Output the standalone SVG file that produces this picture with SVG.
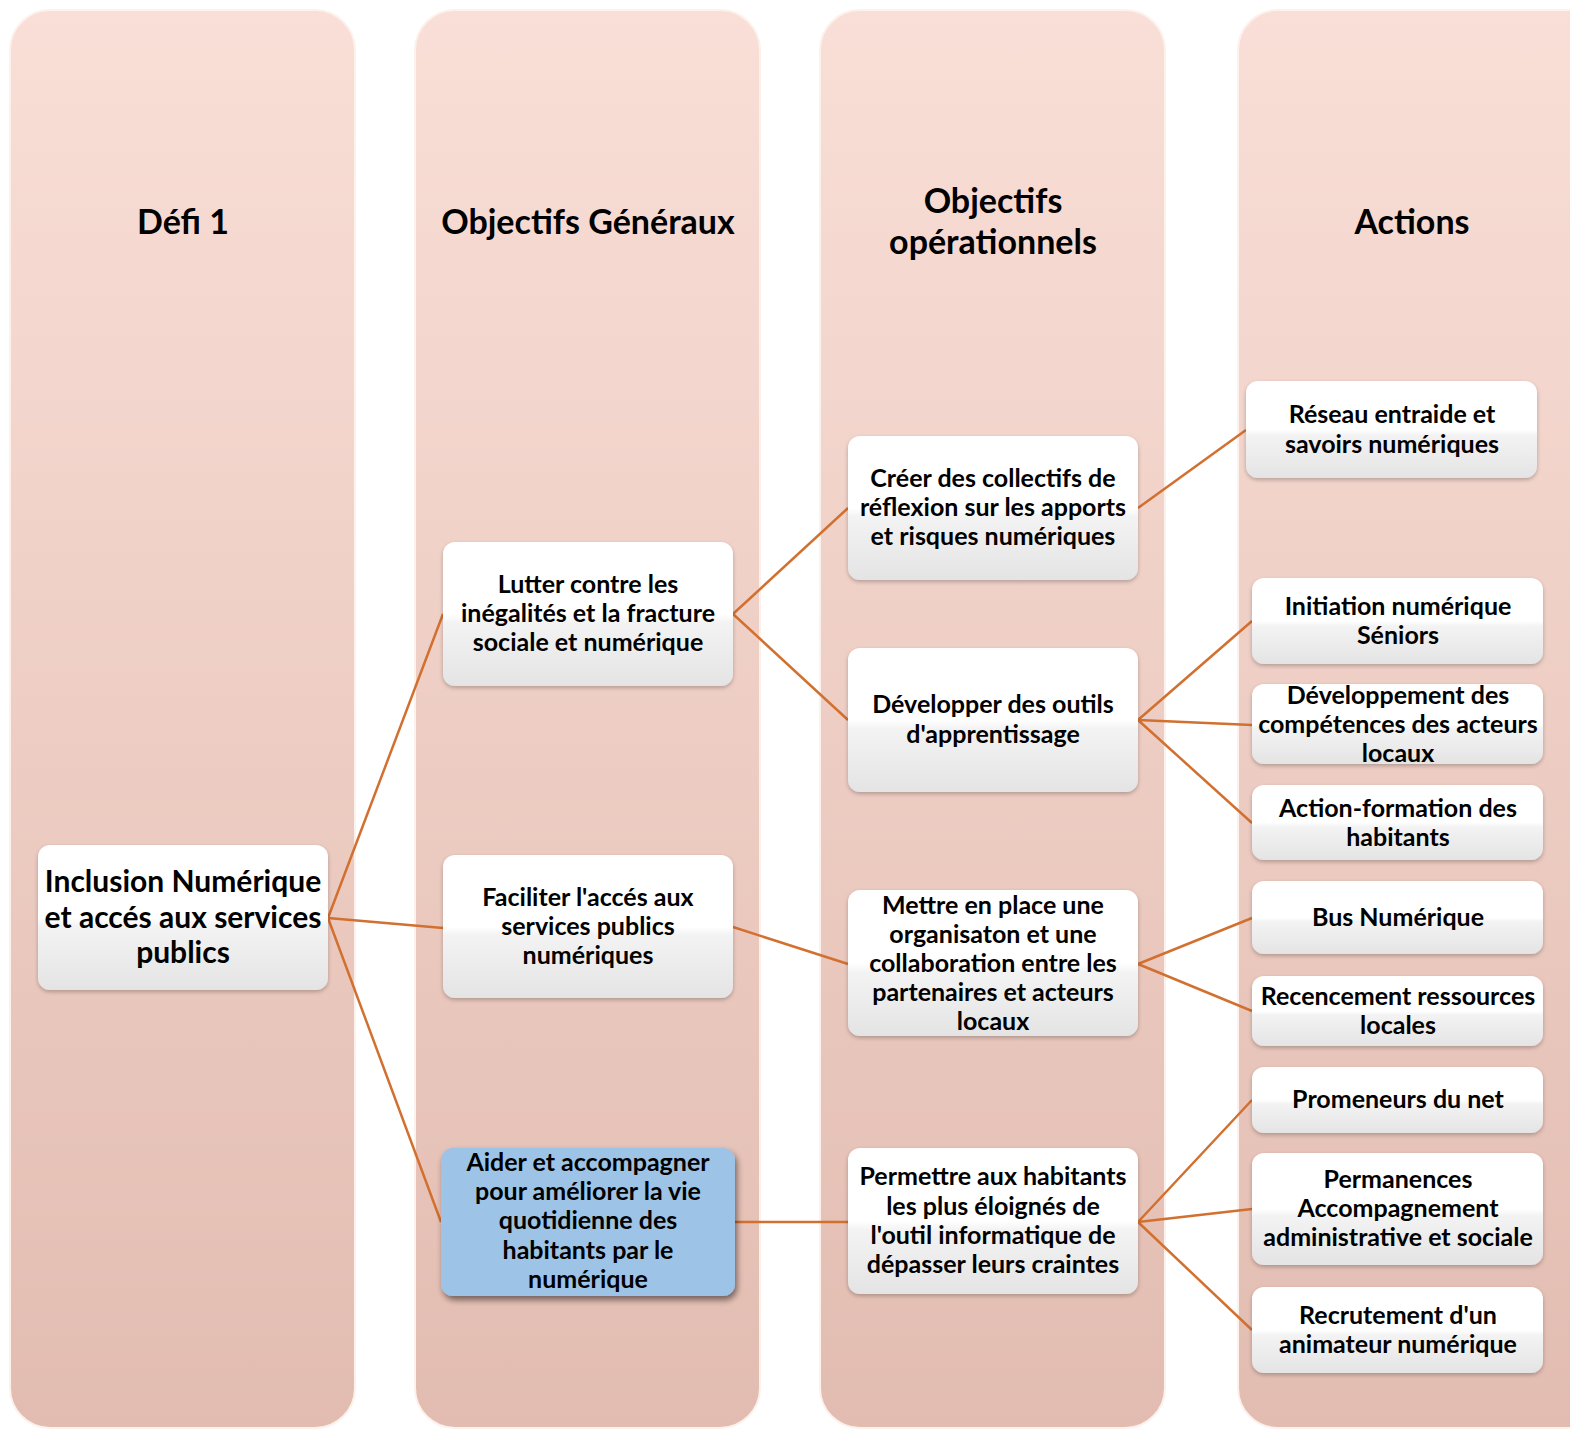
<svg xmlns="http://www.w3.org/2000/svg" width="1570" height="1430" viewBox="0 0 1570 1430">
<defs>
<linearGradient id="colg" x1="0" y1="0" x2="0" y2="1">
<stop offset="0" stop-color="#f9dfd7"/>
<stop offset="1" stop-color="#e2bcb1"/>
</linearGradient>
<linearGradient id="boxg" x1="0" y1="0" x2="0" y2="1">
<stop offset="0" stop-color="#ffffff"/>
<stop offset="0.5" stop-color="#ffffff"/>
<stop offset="0.56" stop-color="#f3f3f3"/>
<stop offset="1" stop-color="#e4e4e4"/>
</linearGradient>
<filter id="sh" x="-10%" y="-10%" width="120%" height="130%">
<feGaussianBlur in="SourceAlpha" stdDeviation="2"/>
<feOffset dx="0" dy="2" result="b"/>
<feComponentTransfer><feFuncA type="linear" slope="0.25"/></feComponentTransfer>
<feMerge><feMergeNode/><feMergeNode in="SourceGraphic"/></feMerge>
</filter>
<filter id="shb" x="-10%" y="-10%" width="125%" height="130%">
<feGaussianBlur in="SourceAlpha" stdDeviation="3"/>
<feOffset dx="2" dy="4" result="b"/>
<feComponentTransfer><feFuncA type="linear" slope="0.5"/></feComponentTransfer>
<feMerge><feMergeNode/><feMergeNode in="SourceGraphic"/></feMerge>
</filter>
</defs>
<style>
.col{fill:url(#colg);stroke:#fdf1ec;stroke-width:2}
.box{fill:url(#boxg);filter:url(#sh)}
.blue{fill:#9dc3e6;filter:url(#shb)}
.t{font-family:Lato,"Open Sans","Liberation Sans",sans-serif;font-weight:bold;fill:#000;text-anchor:middle}
.h{font-size:34px}
.n{font-size:25px}
.big{font-size:30px}
.c{fill:none;stroke:#d2702f;stroke-width:2.5}
</style>
<rect width="1570" height="1430" fill="#ffffff"/>
<g id="columns">
<rect class="col" x="10" y="10" width="345" height="1418" rx="40"/>
<rect class="col" x="415" y="10" width="345" height="1418" rx="40"/>
<rect class="col" x="820" y="10" width="345" height="1418" rx="40"/>
<rect class="col" x="1238" y="10" width="380" height="1418" rx="40"/>
<text class="t h" x="183" y="234">Défi 1</text>
<text class="t h" x="588" y="234">Objectifs Généraux</text>
<text class="t h" x="993" y="213">Objectifs</text>
<text class="t h" x="993" y="254">opérationnels</text>
<text class="t h" x="1412" y="234">Actions</text>
</g>
<g id="connectors">
<path class="c" d="M328 918L443 614M328 918L443 928M328 918L441 1222"/>
<path class="c" d="M733 614L848 508M733 614L848 720M733 927L848 964M735 1222L848 1222"/>
<path class="c" d="M1138 508L1246 430M1138 720L1252 621M1138 720L1252 725M1138 720L1252 823"/>
<path class="c" d="M1138 964L1252 918M1138 964L1252 1011M1138 1222L1252 1100M1138 1222L1252 1209M1138 1222L1252 1330"/>
</g>
<g id="n0"><rect class="box" x="38" y="845" width="290" height="145" rx="12"/>
<text class="t big" x="183" y="892">Inclusion Numérique</text><text class="t big" x="183" y="928">et accés aux services</text><text class="t big" x="183" y="963">publics</text></g>
<g id="g1"><rect class="box" x="443" y="542" width="290" height="144" rx="12"/>
<text class="t n" x="588" y="593">Lutter contre les</text><text class="t n" x="588" y="622">inégalités et la fracture</text><text class="t n" x="588" y="651">sociale et numérique</text></g>
<g id="g2"><rect class="box" x="443" y="855" width="290" height="143" rx="12"/>
<text class="t n" x="588" y="906">Faciliter l'accés aux</text><text class="t n" x="588" y="935">services publics</text><text class="t n" x="588" y="964">numériques</text></g>
<g id="g3"><rect class="blue" x="441" y="1148" width="294" height="148" rx="12"/>
<text class="t n" x="588" y="1171">Aider et accompagner</text><text class="t n" x="588" y="1200">pour améliorer la vie</text><text class="t n" x="588" y="1229">quotidienne des</text><text class="t n" x="588" y="1259">habitants par le</text><text class="t n" x="588" y="1288">numérique</text></g>
<g id="o1"><rect class="box" x="848" y="436" width="290" height="144" rx="12"/>
<text class="t n" x="993" y="487">Créer des collectifs de</text><text class="t n" x="993" y="516">réflexion sur les apports</text><text class="t n" x="993" y="545">et risques numériques</text></g>
<g id="o2"><rect class="box" x="848" y="648" width="290" height="144" rx="12"/>
<text class="t n" x="993" y="713">Développer des outils</text><text class="t n" x="993" y="743">d'apprentissage</text></g>
<g id="o3"><rect class="box" x="848" y="890" width="290" height="146" rx="12"/>
<text class="t n" x="993" y="914">Mettre en place une</text><text class="t n" x="993" y="943">organisaton et une</text><text class="t n" x="993" y="972">collaboration entre les</text><text class="t n" x="993" y="1001">partenaires et acteurs</text><text class="t n" x="993" y="1030">locaux</text></g>
<g id="o4"><rect class="box" x="848" y="1148" width="290" height="146" rx="12"/>
<text class="t n" x="993" y="1185">Permettre aux habitants</text><text class="t n" x="993" y="1215">les plus éloignés de</text><text class="t n" x="993" y="1244">l'outil informatique de</text><text class="t n" x="993" y="1273">dépasser leurs craintes</text></g>
<g id="a1"><rect class="box" x="1246" y="381" width="291" height="97" rx="12"/>
<text class="t n" x="1392" y="423">Réseau entraide et</text><text class="t n" x="1392" y="453">savoirs numériques</text></g>
<g id="a2"><rect class="box" x="1252" y="578" width="291" height="86" rx="12"/>
<text class="t n" x="1398" y="615">Initiation numérique</text><text class="t n" x="1398" y="644">Séniors</text></g>
<g id="a3"><rect class="box" x="1252" y="684" width="291" height="80" rx="12"/>
<text class="t n" x="1398" y="704">Développement des</text><text class="t n" x="1398" y="733">compétences des acteurs</text><text class="t n" x="1398" y="762">locaux</text></g>
<g id="a4"><rect class="box" x="1252" y="785" width="291" height="75" rx="12"/>
<text class="t n" x="1398" y="817">Action-formation des</text><text class="t n" x="1398" y="846">habitants</text></g>
<g id="a5"><rect class="box" x="1252" y="881" width="291" height="73" rx="12"/>
<text class="t n" x="1398" y="926">Bus Numérique</text></g>
<g id="a6"><rect class="box" x="1252" y="976" width="291" height="70" rx="12"/>
<text class="t n" x="1398" y="1005">Recencement ressources</text><text class="t n" x="1398" y="1034">locales</text></g>
<g id="a7"><rect class="box" x="1252" y="1067" width="291" height="66" rx="12"/>
<text class="t n" x="1398" y="1108">Promeneurs du net</text></g>
<g id="a8"><rect class="box" x="1252" y="1153" width="291" height="112" rx="12"/>
<text class="t n" x="1398" y="1188">Permanences</text><text class="t n" x="1398" y="1217">Accompagnement</text><text class="t n" x="1398" y="1246">administrative et sociale</text></g>
<g id="a9"><rect class="box" x="1252" y="1287" width="291" height="86" rx="12"/>
<text class="t n" x="1398" y="1324">Recrutement d'un</text><text class="t n" x="1398" y="1353">animateur numérique</text></g>
</svg>
